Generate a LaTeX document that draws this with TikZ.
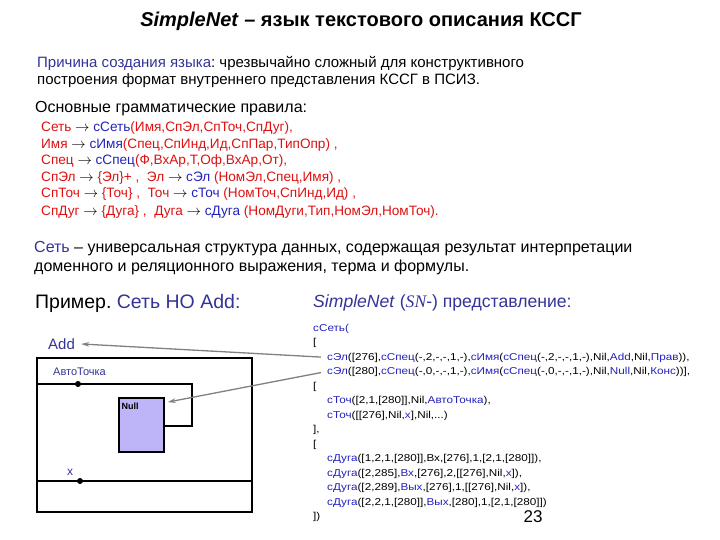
\documentclass[tikz,border=0pt]{standalone}
\usepackage{fontspec}
\setmainfont{Liberation Sans}
\newfontfamily\serifit{Liberation Serif}
\newfontfamily\codefont[FakeStretch=1.17]{Liberation Sans}
\usetikzlibrary{arrows.meta}
\definecolor{hdnavy}{HTML}{333399}
\definecolor{gred}{HTML}{DD1111}
\definecolor{gblue}{HTML}{2222BB}
\definecolor{nullfill}{HTML}{BEB4F8}
\definecolor{ptrgray}{HTML}{808080}
\newcommand{\cstr}[1]{\textcolor{gblue}{#1}}
\newcommand{\hd}[1]{\textcolor{hdnavy}{#1}}
\newcommand{\ar}{\textcolor{black}{$\rightarrow$}}
\frenchspacing
\tikzset{
	txt/.style={anchor=base west, inner sep=0pt},
	body/.style={txt, font=\fontsize{15}{17}\selectfont},
	gram/.style={txt, text=gred, font=\fontsize{13.6}{16}\selectfont},
	code/.style={txt, font=\codefont\fontsize{10}{12}\selectfont},
	ptr/.style={draw=ptrgray, line width=1.3pt, -{Stealth[length=8pt,width=4.5pt]}},
	dot/.style={circle, fill=black, inner sep=0pt, minimum size=6pt}
}
\begin{document}
\begin{tikzpicture}[x=1pt, y=-1pt]
	\useasboundingbox (0,0) rectangle (720,540);
	\node[anchor=base, inner sep=0pt, font=\fontsize{20}{23}\selectfont\bfseries] (title) at (361,27) {\textit{SimpleNet} – язык текстового описания КССГ};
	\node[body] (why1) at (37,67.5) {\hd{Причина создания языка}: чрезвычайно сложный для конструктивного};
	\node[body] (why2) at (37,84.5) {построения формат внутреннего представления КССГ в ПСИЗ.};
	\node[body, font=\fontsize{16}{19}\selectfont] (rules) at (35,112.5) {Основные грамматические правила:};
	\node[gram] (g1) at (41,132) {Сеть \ar{} \cstr{сСеть}(Имя,СпЭл,СпТоч,СпДуг),};
	\node[gram] (g2) at (41,149) {Имя \ar{} \cstr{сИмя}(Спец,СпИнд,Ид,СпПар,ТипОпр) ,};
	\node[gram] (g3) at (41,165) {Спец \ar{} \cstr{сСпец}(Ф,ВхАр,Т,Оф,ВхАр,От),};
	\node[gram] (g4) at (41,182) {СпЭл \ar{} \{Эл\}+ ,\ \ Эл \ar{} \cstr{сЭл} (НомЭл,Спец,Имя) ,};
	\node[gram] (g5) at (41,198) {СпТоч \ar{} \{Точ\} ,\ \ Точ \ar{} \cstr{сТоч} (НомТоч,СпИнд,Ид) ,};
	\node[gram] (g6) at (41,215) {СпДуг \ar{} \{Дуга\} ,\ \ Дуга \ar{} \cstr{сДуга} (НомДуги,Тип,НомЭл,НомТоч).};
	\node[body, font=\fontsize{16}{19}\selectfont] (net1) at (34,252.5) {\hd{Сеть} – универсальная структура данных, содержащая результат интерпретации};
	\node[body, font=\fontsize{16}{19}\selectfont] (net2) at (34,271.5) {доменного и реляционного выражения, терма и формулы.};
	\node[txt, font=\fontsize{19.5}{22}\selectfont] (ex) at (35,308) {Пример. \hd{Сеть НО Add:}};
	\node[txt, font=\fontsize{17.6}{20}\selectfont, text=hdnavy] (snrep) at (313,307.5) {\textit{SimpleNet} ({\serifit\itshape SN}-) представление:};
	\node[code] (c1) at (313,331) {\cstr{сСеть(}};
	\node[code] (c2) at (313,345) {[};
	\node[code] (c3) at (327,360) {\cstr{сЭл}([276],\cstr{сСпец}(-,2,-,-,1,-),\cstr{сИмя}(\cstr{сСпец}(-,2,-,-,1,-),Nil,\cstr{Add},Nil,\cstr{Прав})),};
	\node[code] (c4) at (327,374) {\cstr{сЭл}([280],\cstr{сСпец}(-,0,-,-,1,-),\cstr{сИмя}(\cstr{сСпец}(-,0,-,-,1,-),Nil,\cstr{Null},Nil,\cstr{Конс}))],};
	\node[code] (c5) at (313,389) {[};
	\node[code] (c6) at (327,403) {\cstr{сТоч}([2,1,[280]],Nil,\cstr{АвтоТочка}),};
	\node[code] (c7) at (327,418) {\cstr{сТоч}([[276],Nil,\cstr{x}],Nil,...)};
	\node[code] (c8) at (313,432) {],};
	\node[code] (c9) at (313,447) {[};
	\node[code] (c10) at (327,461) {\cstr{сДуга}([1,2,1,[280]],Вх,[276],1,[2,1,[280]]),};
	\node[code] (c11) at (327,476) {\cstr{сДуга}([2,285],\cstr{Вх},[276],2,[[276],Nil,\cstr{x}]),};
	\node[code] (c12) at (327,490) {\cstr{сДуга}([2,289],\cstr{Вых},[276],1,[[276],Nil,\cstr{x}]),};
	\node[code] (c13) at (327,505) {\cstr{сДуга}([2,2,1,[280]],\cstr{Вых},[280],1,[2,1,[280]])};
	\node[code] (c14) at (313,519) {])};
	\node[anchor=base, inner sep=0pt, font=\fontsize{17}{20}\selectfont] (page) at (533,522.5) {23};
	\node[draw, line width=1.4pt, minimum width=215, minimum height=154, inner sep=0pt] (outer) at (144.5,435) {};
	\node[txt, font=\fontsize{15}{18}\selectfont, text=hdnavy] (add) at (48,349) {Add};
	\node[txt, font=\fontsize{11}{13}\selectfont, text=hdnavy] (auto) at (53,375) {АвтоТочка};
	\node[txt, font=\fontsize{12}{14}\selectfont, text=hdnavy] (xlab) at (67,475) {x};
	\node[draw, line width=1.2pt, fill=nullfill, minimum width=45, minimum height=54, inner sep=0pt] (nullbox) at (141.5,425) {};
	\node[anchor=north west, inner sep=0pt, font=\fontsize{9}{11}\selectfont\bfseries] (nulltxt) at ([shift={(3,5)}]nullbox.north west) {Null};
	\coordinate (autoin) at (outer.west |- 0,384);
	\coordinate (autoturn) at (192,384);
	\coordinate (autoend) at (nullbox.east |- 0,426);
	\coordinate (xin) at (outer.west |- 0,481);
	\coordinate (xout) at (outer.east |- 0,481);
	\draw[line width=1.2pt] (autoin) -- (autoturn) |- (autoend);
	\draw[line width=1.2pt] (xin) -- (xout);
	\node[dot] (autodot) at (78,384) {};
	\node[dot] (xdot) at (80,481) {};
	\draw[ptr, shorten <=6pt, shorten >=6pt] (c3.west) -- (add.east);
	\draw[ptr, shorten <=6pt, shorten >=3pt] (c4.west) -- (nullbox.44);
\end{tikzpicture}
\end{document}
